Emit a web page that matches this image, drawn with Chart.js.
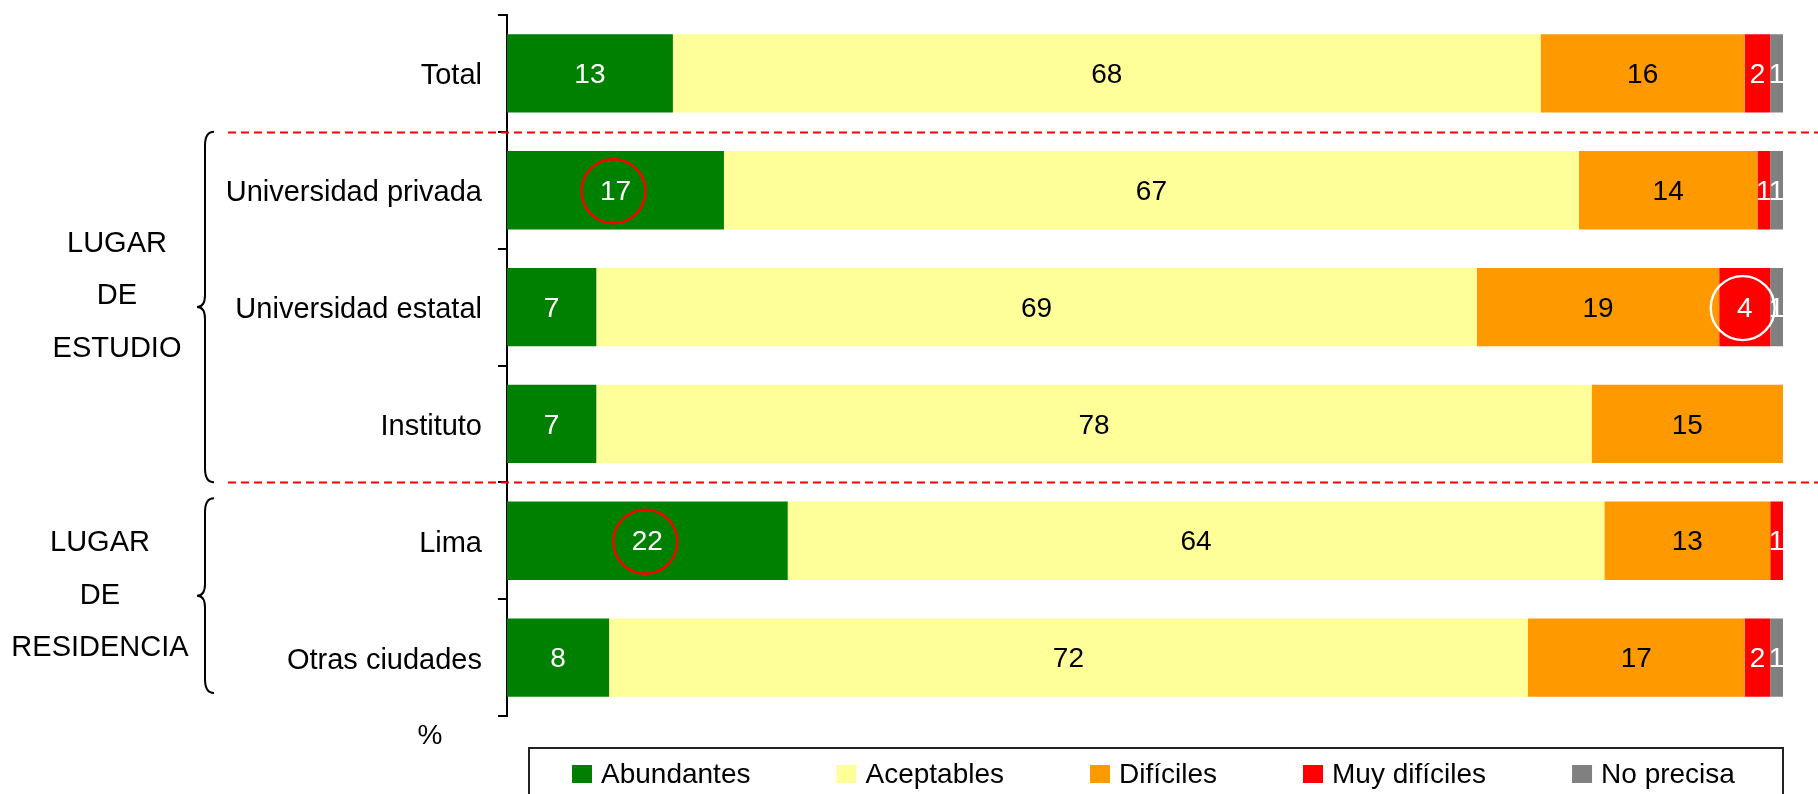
<!DOCTYPE html>
<html><head><meta charset="utf-8">
<script src="https://cdn.jsdelivr.net/npm/chart.js@4.4.1/dist/chart.umd.min.js"></script>
<style>html,body{margin:0;padding:0;background:#fff;overflow:hidden}canvas{display:block}</style>
</head><body>
<canvas id="c" width="1818" height="794"></canvas>
<script>
// ---- data ----
const categories = ['Total','Universidad privada','Universidad estatal','Instituto','Lima','Otras ciudades'];
const seriesNames = ['Abundantes','Aceptables','Difíciles','Muy difíciles','No precisa'];
const abundantes   = [13,17,7,7,22,8];
const aceptables   = [68,67,69,78,64,72];
const dificiles    = [16,14,19,15,13,17];
const muyDificiles = [2,1,4,0,1,2];
const noPrecisa    = [1,1,1,0,0,1];
const groupLabels = [['LUGAR','DE','ESTUDIO'],['LUGAR','DE','RESIDENCIA']];
const groupRanges = [[1,3],[4,5]];
const separatorsAfter = [0,3];
const highlights = [{series:0,index:1},{series:0,index:4},{series:3,index:2}];
const unitLabel = '%';

// ---- style ----
const FONT = '"Liberation Sans", Arial, sans-serif';
const colors = ['#008000','#FFFF99','#FF9900','#FF0000','#808080'];
const labelColors = ['#FFFFFF','#000000','#000000','#FFFFFF','#FFFFFF'];
const highlightColors = ['#FF0000','#FF0000','#FFFFFF'];
const groupTextX = [117,100];
const groupTextDy = [-13,-2];
const braceInset = [[0,0],[16,23]];

Chart.defaults.font.family = FONT;
Chart.defaults.color = '#000';

const seriesValues = [abundantes, aceptables, dificiles, muyDificiles, noPrecisa];

function boundary(scale, i){ // pixel between category i and i+1
  return (scale.getPixelForValue(i) + scale.getPixelForValue(i+1)) / 2;
}

const decorPlugin = {
  id: 'decor',
  afterDatasetsDraw(chart){
    const ctx = chart.ctx;
    ctx.save();
    ctx.font = '28px ' + FONT;
    ctx.textAlign = 'center';
    ctx.textBaseline = 'middle';
    chart.data.datasets.forEach((ds, di) => {
      const meta = chart.getDatasetMeta(di);
      meta.data.forEach((el, i) => {
        const v = ds.data[i];
        if (!v) return;
        const p = el.getProps(['x','y','base'], true);
        ctx.fillStyle = labelColors[di];
        ctx.fillText(String(v), (p.x + p.base)/2, p.y + 2);
      });
    });
    highlights.forEach((h, k) => {
      const el = chart.getDatasetMeta(h.series).data[h.index];
      const p = el.getProps(['x','y','base'], true);
      ctx.beginPath();
      ctx.lineWidth = 2.4;
      ctx.strokeStyle = highlightColors[k];
      ctx.arc((p.x + p.base)/2 - 2, p.y + 1, 32, 0, Math.PI*2);
      ctx.stroke();
    });
    ctx.restore();
  },
  afterDraw(chart){
    const ctx = chart.ctx;
    const ys = chart.scales.y;
    const area = chart.chartArea;
    ctx.save();
    ctx.strokeStyle = '#FF0000';
    ctx.lineWidth = 2;
    ctx.setLineDash([8,5]);
    separatorsAfter.forEach(i => {
      const y = Math.round(boundary(ys, i)) + 0.5;
      ctx.beginPath(); ctx.moveTo(228, y); ctx.lineTo(chart.width, y); ctx.stroke();
    });
    ctx.setLineDash([]);
    ctx.strokeStyle = '#000';
    ctx.lineWidth = 2;
    ctx.fillStyle = '#000';
    ctx.font = '29px ' + FONT;
    ctx.textAlign = 'center';
    ctx.textBaseline = 'middle';
    groupRanges.forEach((r, g) => {
      const top = (r[0] === 0 ? area.top : boundary(ys, r[0]-1)) + braceInset[g][0];
      const bot = (r[1] === categories.length-1 ? area.bottom : boundary(ys, r[1])) - braceInset[g][1];
      const mid = (top + bot)/2;
      const x = 205;
      ctx.beginPath();
      ctx.moveTo(x+9, top);
      ctx.quadraticCurveTo(x, top, x, top+14);
      ctx.lineTo(x, mid-12);
      ctx.quadraticCurveTo(x, mid, x-8, mid);
      ctx.quadraticCurveTo(x, mid, x, mid+12);
      ctx.lineTo(x, bot-14);
      ctx.quadraticCurveTo(x, bot, x+9, bot);
      ctx.stroke();
      const lines = groupLabels[g];
      const lh = 52.5;
      const c = mid + groupTextDy[g];
      lines.forEach((t, k) => {
        ctx.fillText(t, groupTextX[g], c + (k - (lines.length-1)/2)*lh + 2);
      });
    });
    ctx.font = '28px ' + FONT;
    ctx.fillText(unitLabel, 430, 736);
    const lx0 = area.left + 65, ly = 748;
    ctx.lineWidth = 2;
    ctx.strokeStyle = '#222';
    ctx.strokeRect(area.left + 22, ly, area.right - area.left - 22, 80);
    ctx.textAlign = 'left';
    ctx.textBaseline = 'alphabetic';
    let x = lx0;
    chart.data.datasets.forEach((ds, di) => {
      ctx.fillStyle = colors[di];
      ctx.fillRect(x, 765, 20, 18);
      ctx.fillStyle = '#000';
      ctx.fillText(ds.label, x + 29, 783);
      x += 29 + ctx.measureText(ds.label).width + 86;
    });
    ctx.restore();
  }
};

new Chart(document.getElementById('c'), {
  type: 'bar',
  data: {
    labels: categories,
    datasets: seriesNames.map((n, i) => ({
      label: n,
      data: seriesValues[i],
      backgroundColor: colors[i],
      borderWidth: 0,
      barPercentage: 0.67,
      categoryPercentage: 1
    }))
  },
  options: {
    indexAxis: 'y',
    responsive: false,
    animation: false,
    devicePixelRatio: 1,
    layout: { padding: { top: 15, right: 35, bottom: 78, left: 0 } },
    plugins: { legend: { display: false }, tooltip: { enabled: false } },
    scales: {
      x: { stacked: true, min: 0, max: 100, display: false },
      y: {
        stacked: true,
        afterFit(s){ s.width = 507; s.paddingTop = 0; s.paddingBottom = 0; },
        border: { display: true, color: '#000', width: 2 },
        grid: { offset: true, drawOnChartArea: false, drawTicks: true, tickLength: 9, lineWidth: 2, color: '#000' },
        ticks: { font: { size: 29 }, color: '#000', padding: 16, labelOffset: 3 }
      }
    }
  },
  plugins: [decorPlugin]
});
</script>
</body></html>
